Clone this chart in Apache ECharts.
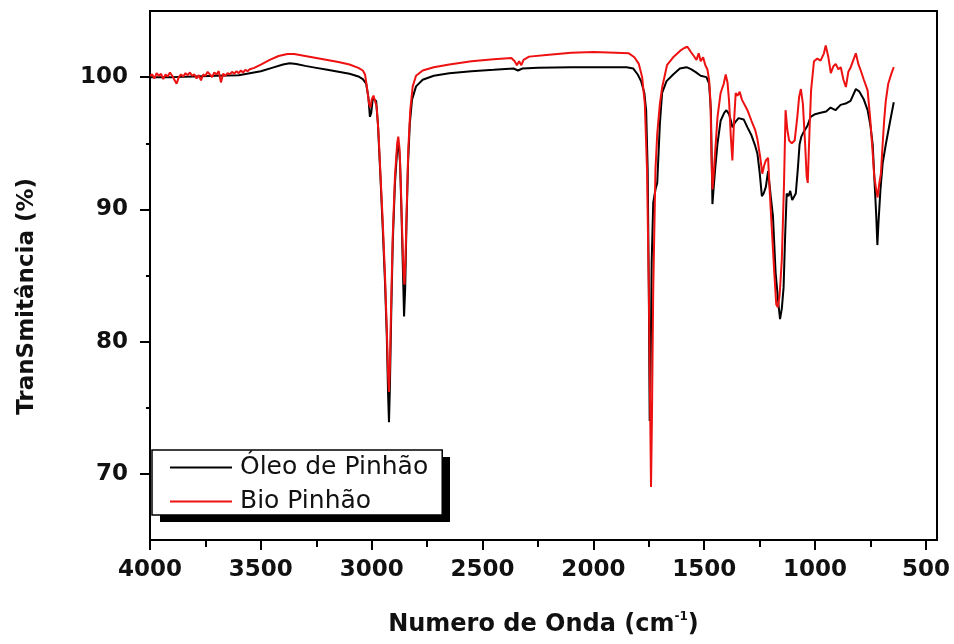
<!DOCTYPE html>
<html>
<head>
<meta charset="utf-8">
<script src="https://cdn.jsdelivr.net/npm/echarts@6/dist/echarts.min.js"></script>
<style>html,body{margin:0;padding:0;background:#fff}#c{width:954px;height:644px}</style>
</head>
<body>
<div id="c"></div>
<script>
// Wavenumber (cm-1) and transmittance (%)
const oleoWn = [4000,3900,3800,3700,3600,3550,3500,3450,3400,3370,3340,3300,3250,3200,3150,3100,3060,3040,3025,3015,3008,3002,2995,2988,2980,2972,2962,2950,2940,2932,2926,2922,2918,2912,2905,2895,2885,2878,2872,2866,2860,2854,2849,2843,2836,2828,2818,2800,2770,2720,2650,2550,2450,2360,2340,2320,2250,2100,1950,1850,1820,1800,1785,1770,1762,1755,1750,1746,1742,1737,1730,1720,1712,1700,1690,1670,1640,1610,1580,1560,1540,1516,1490,1478,1470,1466,1463,1458,1450,1440,1426,1410,1400,1388,1378,1373,1360,1345,1336,1322,1305,1287,1270,1260,1250,1240,1232,1222,1212,1200,1190,1178,1165,1158,1150,1142,1135,1128,1120,1112,1103,1095,1087,1078,1070,1062,1050,1035,1020,1000,975,950,930,908,885,862,840,816,800,780,763,750,740,730,724,719,714,705,695,680,660,645];
const oleoT = [100.0,100.0,100.05,100.1,100.15,100.3,100.45,100.7,100.95,101.05,101.0,100.85,100.7,100.55,100.4,100.25,100.05,99.85,99.5,98.5,97.0,97.3,98.4,98.5,98.2,96.5,93.0,88.5,84.5,80.5,76.0,73.9,76.5,82.0,87.5,92.0,94.5,94.9,93.5,90.0,86.0,81.9,84.0,89.0,93.5,96.5,98.3,99.3,99.8,100.1,100.3,100.45,100.55,100.65,100.5,100.65,100.7,100.75,100.75,100.75,100.65,100.2,99.7,98.8,97.5,93.0,84.0,74.0,78.0,86.0,90.5,91.5,92.0,96.5,98.8,99.7,100.2,100.65,100.75,100.6,100.4,100.1,100.0,99.5,97.5,93.5,90.4,91.5,93.2,95.0,96.7,97.3,97.5,97.2,96.6,96.2,96.6,96.9,97.0,96.8,96.2,95.6,94.8,94.2,92.8,91.0,91.2,91.7,92.9,91.0,89.5,85.2,82.8,81.7,82.5,84.1,88.0,91.2,91.0,91.4,90.7,90.7,91.2,93.0,94.9,95.5,95.9,96.3,97.0,97.2,97.3,97.4,97.7,97.5,97.9,98.0,98.2,99.1,98.9,98.3,97.5,96.3,94.9,91.5,89.5,87.3,89.0,91.5,93.5,95.0,96.8,98.1];

const bioWn = [4000,3990,3980,3970,3960,3950,3940,3930,3920,3910,3900,3890,3880,3870,3860,3850,3840,3830,3820,3810,3800,3790,3780,3770,3760,3750,3740,3730,3720,3710,3700,3690,3680,3670,3660,3650,3640,3630,3620,3610,3600,3590,3580,3570,3560,3550,3530,3500,3460,3420,3380,3350,3300,3250,3200,3150,3100,3060,3040,3030,3022,3012,3006,3000,2992,2985,2978,2970,2960,2950,2940,2932,2926,2922,2918,2912,2905,2895,2885,2880,2874,2868,2862,2856,2852,2848,2842,2835,2826,2815,2800,2770,2720,2650,2550,2450,2370,2355,2345,2335,2325,2315,2290,2200,2100,2000,1900,1840,1815,1795,1780,1768,1758,1750,1744,1740,1736,1730,1720,1712,1700,1690,1668,1640,1608,1590,1576,1560,1547,1535,1525,1516,1505,1495,1486,1478,1472,1467,1463,1458,1450,1440,1426,1412,1403,1395,1388,1380,1373,1366,1358,1350,1340,1330,1322,1305,1287,1270,1260,1248,1238,1230,1222,1212,1205,1195,1185,1175,1168,1160,1150,1140,1133,1125,1117,1105,1092,1080,1072,1064,1055,1045,1038,1033,1025,1018,1005,990,975,960,952,940,929,918,907,895,884,872,861,850,839,825,816,805,794,780,763,752,741,733,726,718,710,703,695,688,681,670,655,645];
const bioT = [100.1,100.2,99.9,100.3,100.1,100.25,99.85,100.2,100.05,100.35,100.1,99.8,99.5,100.0,100.2,100.05,100.3,100.15,100.35,100.1,100.2,99.9,100.15,99.75,100.2,100.1,100.4,100.2,100.0,100.35,100.2,100.45,99.6,100.25,100.1,100.3,100.2,100.4,100.25,100.45,100.3,100.5,100.35,100.55,100.45,100.6,100.7,100.95,101.3,101.6,101.75,101.75,101.6,101.45,101.3,101.15,100.95,100.7,100.5,100.2,99.3,98.0,97.7,98.3,98.6,98.6,97.8,96.0,92.5,89.0,85.0,81.0,77.5,76.2,78.0,83.0,88.0,92.5,95.0,95.5,94.5,91.5,88.0,85.0,84.3,86.0,90.0,94.5,97.5,99.3,100.1,100.5,100.75,100.95,101.2,101.35,101.45,101.2,100.9,101.2,100.9,101.3,101.55,101.7,101.85,101.9,101.85,101.8,101.5,101.0,100.0,98.0,93.0,84.0,75.0,69.0,74.0,84.0,93.0,95.7,98.0,99.2,100.9,101.5,102.0,102.2,102.3,101.9,101.6,101.3,101.8,101.2,101.5,100.9,100.6,99.8,98.2,94.0,91.5,92.5,94.5,97.0,98.8,99.5,100.2,99.6,98.2,95.5,93.7,96.5,98.8,98.6,98.9,98.3,98.4,97.5,96.7,96.0,95.3,94.0,92.7,93.3,93.7,93.9,91.5,88.5,85.5,82.8,82.6,83.5,86.2,92.0,97.5,96.0,95.2,95.0,95.2,97.0,98.5,99.1,98.0,95.0,92.5,92.0,96.0,99.0,101.2,101.4,101.25,101.8,102.4,101.5,100.3,100.8,101.0,100.6,100.75,99.8,99.25,100.4,100.75,101.4,101.8,101.0,100.5,99.8,99.0,97.0,94.5,92.5,91.7,90.9,92.0,92.7,95.0,96.8,98.2,99.5,100.3,100.75];

const seriesNames = ['Óleo de Pinhão', 'Bio Pinhão'];
const xMajorTicks = [4000,3500,3000,2500,2000,1500,1000,500];
const xMinorTicks = [3750,3250,2750,2250,1750,1250,750];
const yMajorTicks = [70,80,90,100];
const yMinorTicks = [75,85,95];

const FONT = 'DejaVu Sans';
const pair = (xs, ys) => xs.map((x, i) => [x, ys[i]]);
const plain = v => String(v);

const chart = echarts.init(document.getElementById('c'), null, {renderer: 'canvas'});
const xBase = {type: 'value', min: 450, max: 4000, inverse: true, position: 'bottom', splitLine: {show: false}};
const yBase = {type: 'value', min: 65, max: 105, position: 'left', splitLine: {show: false}};
chart.setOption({
  animation: false,
  backgroundColor: '#fff',
  grid: {left: 150, right: 17, top: 11, bottom: 104, show: true, borderColor: '#000', borderWidth: 2, backgroundColor: 'transparent'},
  xAxis: [
    Object.assign({}, xBase, {
      axisLine: {lineStyle: {color: '#000', width: 2}},
      axisTick: {show: true, length: 10, customValues: xMajorTicks, lineStyle: {color: '#000', width: 2}},
      axisLabel: {customValues: xMajorTicks, formatter: plain, margin: 19, fontFamily: FONT, fontWeight: 'bold', fontSize: 23, color: '#111'},
      name: 'Numero de Onda (cm{sup|-1})',
      nameLocation: 'middle',
      nameGap: 71,
      nameTextStyle: {fontFamily: FONT, fontWeight: 'bold', fontSize: 24, color: '#111', lineHeight: 28,
        rich: {sup: {fontFamily: FONT, fontWeight: 'bold', fontSize: 12, color: '#111', verticalAlign: 'top', lineHeight: 12}}}
    }),
    Object.assign({}, xBase, {
      axisLine: {show: false},
      axisTick: {show: true, length: 7, customValues: xMinorTicks, lineStyle: {color: '#000', width: 2}},
      axisLabel: {show: false}
    })
  ],
  yAxis: [
    Object.assign({}, yBase, {
      axisLine: {show: true, lineStyle: {color: '#000', width: 2}},
      axisTick: {show: true, length: 10, customValues: yMajorTicks, lineStyle: {color: '#000', width: 2}},
      axisLabel: {customValues: yMajorTicks, formatter: plain, margin: 22, fontFamily: FONT, fontWeight: 'bold', fontSize: 23, color: '#111'}
    }),
    Object.assign({}, yBase, {
      axisLine: {show: false},
      axisTick: {show: true, length: 4, customValues: yMinorTicks, lineStyle: {color: '#000', width: 2}},
      axisLabel: {show: false}
    })
  ],
  legend: {
    orient: 'vertical', left: 152, top: 450,
    itemWidth: 62, itemHeight: 14, itemGap: 9,
    padding: [5, 14, 1, 18],
    backgroundColor: '#fff', borderColor: '#000', borderWidth: 1.5, borderRadius: 0,
    textStyle: {fontFamily: FONT, fontSize: 25, color: '#111', padding: [0, 0, 0, 3]},
    data: seriesNames.map(n => ({name: n, icon: 'path://M0,0L62,0L62,2L0,2Z'})),
    z: 10
  },
  graphic: [
    {type: 'rect', left: 160, top: 457, z: 5, shape: {width: 290, height: 65}, style: {fill: '#000'}},
    {type: 'text', left: 16, top: 178,
      style: {text: 'TranSmitância (%)', font: 'bold 23px "DejaVu Sans"', fill: '#111'},
      rotation: Math.PI / 2}
  ],
  series: [
    {name: seriesNames[0], type: 'line', xAxisIndex: 0, yAxisIndex: 0, data: pair(oleoWn, oleoT),
      showSymbol: false, symbol: 'none', lineStyle: {color: '#000', width: 2}, itemStyle: {color: '#000'}, z: 2},
    {name: seriesNames[1], type: 'line', xAxisIndex: 0, yAxisIndex: 0, data: pair(bioWn, bioT),
      showSymbol: false, symbol: 'none', lineStyle: {color: '#ee1111', width: 2}, itemStyle: {color: '#ee1111'}, z: 3}
  ]
});
</script>
</body>
</html>
